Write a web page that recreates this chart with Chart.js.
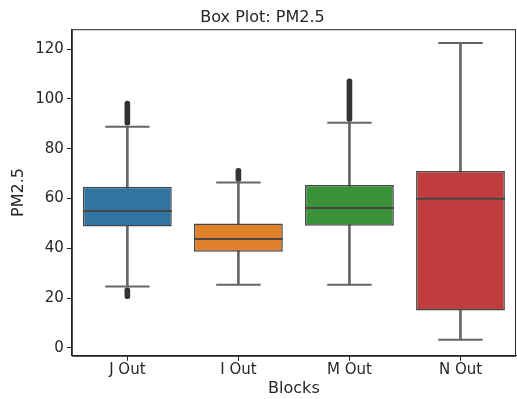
<!DOCTYPE html>
<html>
<head>
<meta charset="utf-8">
<script src="https://cdn.jsdelivr.net/npm/chart.js@4"></script>
<style>
  html, body { margin: 0; padding: 0; background: #fff; }
  #wrap { width: 517px; height: 399px; }
</style>
</head>
<body>
<div id="wrap"><canvas id="box"></canvas></div>
<script>
const categories = ['J Out', 'I Out', 'M Out', 'N Out'];
const q1 = [48.7, 38.6, 49.0, 15.0];
const median = [55.0, 43.7, 56.2, 59.9];
const q3 = [64.7, 49.9, 65.4, 71.0];
const whiskerLow = [24.6, 25.3, 25.3, 3.2];
const whiskerHigh = [88.8, 66.4, 90.4, 122.5];
// dense outlier bands (fliers)
const outlierHigh = [[89.4, 99.1], [66.9, 72.1], [91.0, 108.1], null];
const outlierLow = [[19.7, 24.1], null, null, null];
const yTicks = [0, 20, 40, 60, 80, 100, 120];

const boxColors = ['#3274a1', '#e1812c', '#3a923a', '#c03d3e'];
const ink = '#262626';
const tickFont = { family: 'DejaVu Sans', size: 15 };
const titleFont = { family: 'DejaVu Sans', size: 16 };

// half width of a category slot, in pixels, times a fraction
const slot = (ctx, frac) => {
    const x = ctx.chart.scales.x;
    return x ? x.width / categories.length * frac : 0;
};

// matplotlib style frame round the plot area
const frame = {
    id: 'frame',
    afterDraw(chart) {
        const { ctx, chartArea: a } = chart;
        ctx.save();
        ctx.strokeStyle = ink;
        ctx.lineWidth = 1;
        ctx.strokeRect(a.left + 0.5, a.top + 0.5, a.right - a.left - 1, a.bottom - a.top);
        ctx.restore();
    }
};

new Chart(document.getElementById('box'), {
    type: 'bar',
    data: {
        labels: categories,
        datasets: [
            {
                label: 'whiskers',
                data: whiskerLow.map((v, i) => [v, whiskerHigh[i]]),
                backgroundColor: '#666',
                barThickness: 2,
                grouped: false,
                order: 6
            },
            {
                label: 'box',
                data: q1.map((v, i) => [v, q3[i]]),
                backgroundColor: boxColors,
                borderColor: '#474747',
                borderWidth: 1.5,
                borderSkipped: false,
                barPercentage: 0.8,
                categoryPercentage: 1,
                grouped: false,
                order: 5
            },
            {
                type: 'line',
                label: 'median',
                data: median,
                showLine: false,
                pointStyle: 'line',
                pointRadius: ctx => slot(ctx, 0.4),
                pointBorderWidth: 2,
                pointBorderColor: '#474747',
                order: 3
            },
            {
                type: 'line',
                label: 'capLow',
                data: whiskerLow,
                showLine: false,
                pointStyle: 'line',
                pointRadius: ctx => slot(ctx, 0.2),
                pointBorderWidth: 2,
                pointBorderColor: '#666',
                order: 4
            },
            {
                type: 'line',
                label: 'capHigh',
                data: whiskerHigh,
                showLine: false,
                pointStyle: 'line',
                pointRadius: ctx => slot(ctx, 0.2),
                pointBorderWidth: 2,
                pointBorderColor: '#666',
                order: 4
            },
            {
                label: 'fliersHigh',
                data: outlierHigh,
                backgroundColor: '#333',
                barThickness: 5,
                borderRadius: 2.5,
                borderSkipped: false,
                grouped: false,
                order: 1
            },
            {
                label: 'fliersLow',
                data: outlierLow,
                backgroundColor: '#333',
                barThickness: 5,
                borderRadius: 2.5,
                borderSkipped: false,
                grouped: false,
                order: 1
            }
        ]
    },
    options: {
        responsive: true,
        maintainAspectRatio: false,
        animation: false,
        layout: { autoPadding: false, padding: { top: 8, right: 1, left: 9, bottom: 1 } },
        plugins: {
            legend: { display: false },
            tooltip: { enabled: false },
            title: {
                display: true,
                text: 'Box Plot: PM2.5',
                color: ink,
                font: { family: 'DejaVu Sans', size: 16, weight: 'normal' },
                padding: { top: 0, bottom: 2 }
            }
        },
        scales: {
            x: {
                offset: true,
                grid: { display: true, offset: false, drawOnChartArea: false, tickLength: 5, color: ink },
                border: { color: ink },
                ticks: { color: ink, font: tickFont, padding: 0 },
                title: {
                    display: true,
                    text: 'Blocks',
                    color: ink,
                    font: titleFont,
                    padding: { top: 0, bottom: 0 }
                }
            },
            y: {
                min: -3.2,
                max: 128,
                afterBuildTicks: (axis) => { axis.ticks = yTicks.map(v => ({ value: v })); },
                grid: { display: true, drawOnChartArea: false, tickLength: 5, color: ink },
                border: { color: ink },
                ticks: { color: ink, font: tickFont, padding: 3 },
                title: {
                    display: true,
                    text: 'PM2.5',
                    color: ink,
                    font: titleFont,
                    padding: { top: 0, bottom: 4 }
                }
            }
        }
    },
    plugins: [frame]
});
</script>
</body>
</html>
